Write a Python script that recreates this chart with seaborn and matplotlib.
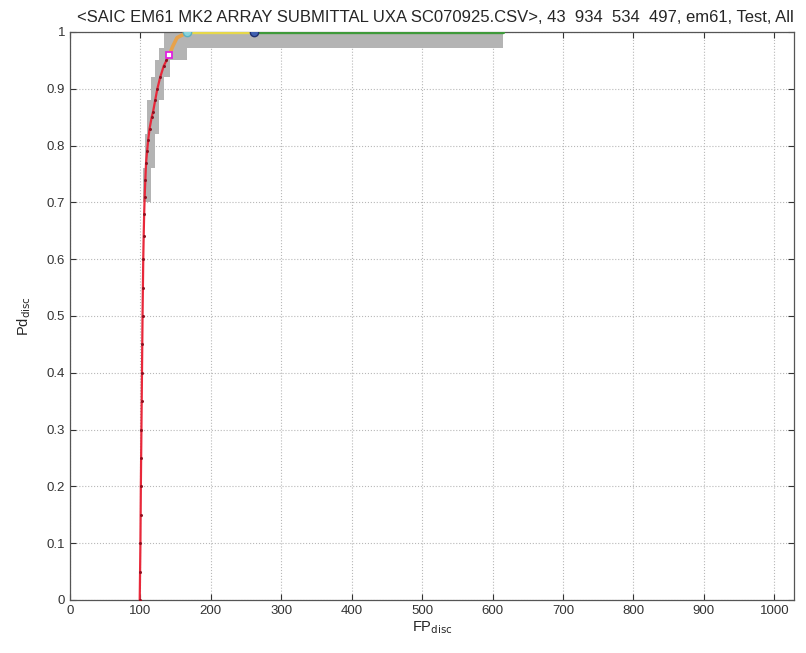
import matplotlib
matplotlib.use("Agg")
import matplotlib.pyplot as plt
import seaborn as sns
import pandas as pd
import numpy as np

# ---- data ----
title_text = "<SAIC EM61 MK2 ARRAY SUBMITTAL UXA SC070925.CSV>, 43  934  534  497, em61, Test, All"

# red ROC curve (FP_disc, Pd_disc)
red_fp = [99, 99.5, 100, 100.3, 100.6, 101, 101.4, 101.8, 102.2, 102.6, 103, 103.5, 104,
          104.6, 105.3, 106, 107, 108, 109.5, 111, 113, 116, 118, 121, 124, 128, 133, 137, 141]
red_pd = [0.0, 0.05, 0.10, 0.15, 0.20, 0.25, 0.30, 0.35, 0.40, 0.45, 0.50, 0.55, 0.60,
          0.64, 0.68, 0.71, 0.74, 0.77, 0.79, 0.81, 0.83, 0.85, 0.86, 0.88, 0.90, 0.92, 0.94, 0.95, 0.96]

# orange continuation
orange_fp = [141, 146, 152, 160, 166]
orange_pd = [0.96, 0.975, 0.99, 0.995, 1.0]

# yellow and green segments at Pd = 1
yellow_fp = [166, 261]
yellow_pd = [1.0, 1.0]
green_fp = [261, 615]
green_pd = [1.0, 1.0]

# markers
magenta_pt = (141, 0.96)
cyan_pt = (166, 1.0)
blue_pt = (261, 1.0)

# gray uncertainty band (levels, left and right FP bounds)
band_pd = [0.70, 0.76, 0.82, 0.88, 0.92, 0.95, 0.972, 1.0]
band_left = [104, 106, 110, 115, 121, 127, 134, 134]
band_right = [115, 120, 126, 134, 142, 166, 615, 615]

x_ticks = list(range(0, 1001, 100))
y_ticks = [round(0.1 * i, 1) for i in range(11)]
y_labels = ["0"] + [f"{v:.1f}" for v in y_ticks[1:-1]] + ["1"]

# ---- plotting ----
sns.set_style("ticks")
plt.rcParams["font.family"] = ["Liberation Sans", "DejaVu Sans"]

fig = plt.figure(figsize=(8.06, 6.53), dpi=100)
ax = fig.add_axes([70 / 806, 1 - 600 / 653, (794 - 70) / 806, (600 - 32) / 653])

ax.fill_betweenx(band_pd, band_left, band_right, step="post", color="#b4b4b4",
                 linewidth=0, zorder=2)

def seg(xs, ys, color, lw=2.0, **kw):
    df = pd.DataFrame({"x": xs, "y": ys})
    sns.lineplot(data=df, x="x", y="y", sort=False, estimator=None, color=color,
                 linewidth=lw, ax=ax, zorder=3, **kw)

seg(green_fp, green_pd, "#3f9a3a", lw=2.4)
seg(yellow_fp, yellow_pd, "#e6d84a", lw=2.4)
seg(orange_fp, orange_pd, "#e8a24a", lw=2.6)
seg(red_fp, red_pd, "#e8283a", lw=1.6, marker="o", markersize=1.4,
    markerfacecolor="#901020", markeredgecolor="#901020")

ax.plot(*magenta_pt, marker="s", markersize=5, markerfacecolor="white",
        markeredgecolor="#e020e0", markeredgewidth=1.3, zorder=5)
ax.plot(*cyan_pt, marker="o", markersize=6, markerfacecolor="#88d4dc",
        markeredgecolor="#5ab0c0", zorder=5)
ax.plot(*blue_pt, marker="o", markersize=6, markerfacecolor="#4060b0",
        markeredgecolor="#203070", zorder=5)

ax.set_xlim(0, 1028)
ax.set_ylim(0, 1)
ax.set_xticks(x_ticks)
ax.set_xticklabels([str(t) for t in x_ticks])
ax.set_yticks(y_ticks)
ax.set_yticklabels(y_labels)
ax.grid(True, linestyle=":", color="#b8b8b8", linewidth=0.8)
ax.tick_params(direction="in", length=4, labelsize=9.5, colors="#333333",
               top=True, right=True)
for s in ax.spines.values():
    s.set_color("#555555")
    s.set_linewidth(0.9)
    s.set_visible(True)

ax.set_xlabel(r"FP$_{\rm disc}$", fontsize=10.5, labelpad=2)
ax.set_ylabel(r"Pd$_{\rm disc}$", fontsize=10.5, labelpad=10)
ax.set_title(title_text, fontsize=12, pad=7, x=0.505)

fig.savefig("out.png", dpi=100)
